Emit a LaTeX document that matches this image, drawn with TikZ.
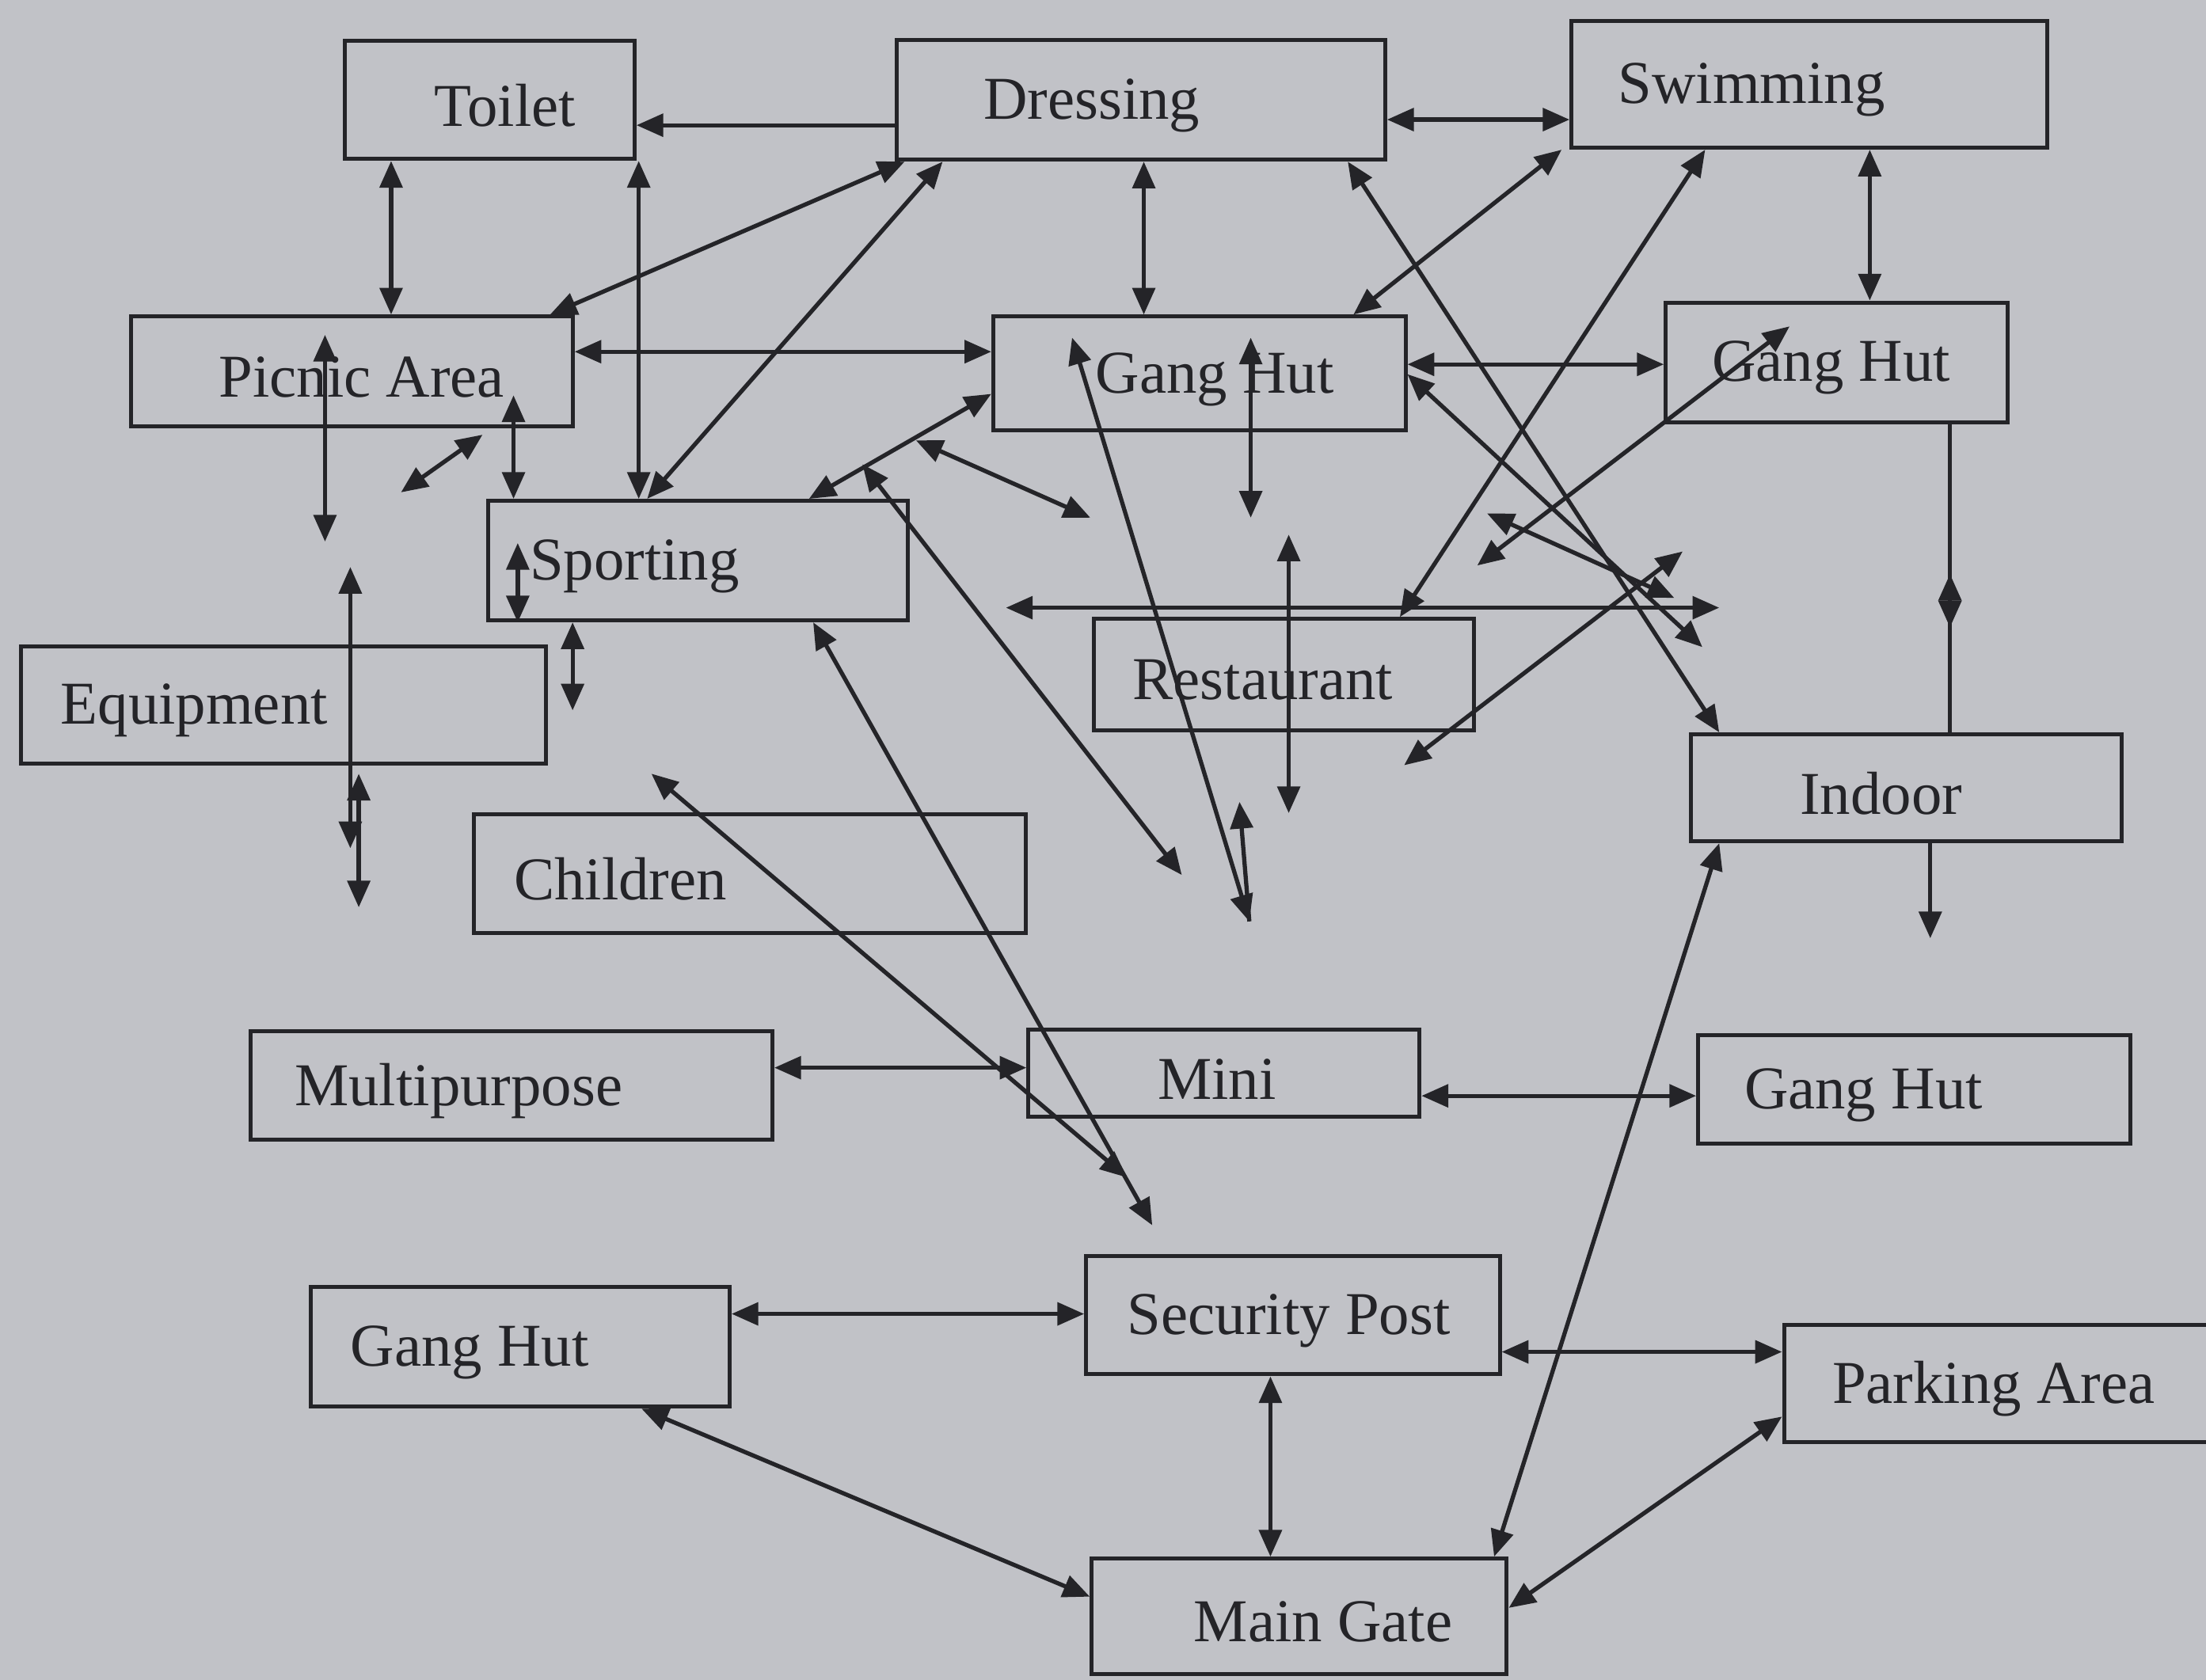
\documentclass[tikz,border=0pt]{standalone}
\usepackage{fontspec}
\setmainfont{Liberation Serif}
\usetikzlibrary{arrows.meta}
\definecolor{paper}{RGB}{193,194,199}
\definecolor{ink}{RGB}{36,36,40}

\begin{document}
\begin{tikzpicture}[x=1cm,y=-1cm,
		font=\fontsize{12.3}{14}\selectfont,
		room/.style n args={4}{draw=ink,line width=.8pt,inner sep=0pt,minimum width=#1cm,minimum height=#2cm,
			label={[text=ink,xshift=#3cm,yshift=-.04cm]center:#4}},
		both/.style={draw=ink,line width=.85pt,{Triangle[length=.19cm,width=.16cm]}-{Triangle[length=.19cm,width=.16cm]}},
		one/.style={draw=ink,line width=.85pt,-{Triangle[length=.19cm,width=.16cm]}}]
			\fill[paper] (0,0) rectangle (15.68,11.94);
			\useasboundingbox (0,0) rectangle (15.68,11.94);
			\node[room={2.06}{0.84}{0.11}{Toilet}] (toilet) at (3.48,0.71) {};
			\node[room={3.47}{0.85}{-0.35}{Dressing}] (dressing) at (8.11,0.71) {};
			\node[room={3.38}{0.90}{-0.41}{Swimming}] (swimming) at (12.86,0.60) {};
			\node[room={3.14}{0.78}{0.07}{Picnic Area}] (picnic) at (2.50,2.64) {};
			\node[room={2.93}{0.81}{0.11}{Gang Hut}] (ganghut) at (8.525,2.655) {};
			\node[room={2.43}{0.85}{-0.04}{Gang Hut}] (ganghutR) at (13.055,2.575) {};
			\node[room={2.98}{0.85}{-0.45}{Sporting}] (sporting) at (4.96,3.985) {};
			\node[room={3.73}{0.835}{-0.635}{Equipment}] (equipment) at (2.015,5.01) {};
			\node[room={2.70}{0.79}{-0.15}{Restaurant}] (restaurant) at (9.126,4.795) {};
			\node[room={3.06}{0.76}{-0.18}{Indoor}] (indoor) at (13.55,5.60) {};
			\node[room={3.92}{0.84}{-0.92}{Children}] (children) at (5.33,6.21) {};
			\node[room={3.71}{0.77}{-0.375}{Multipurpose}] (multipurpose) at (3.635,7.715) {};
			\node[room={2.78}{0.62}{-0.05}{Mini}] (mini) at (8.70,7.63) {};
			\node[room={3.07}{0.77}{-0.36}{Gang Hut}] (ganghutLR) at (13.605,7.745) {};
			\node[room={2.94}{0.84}{-0.03}{Security Post}] (security) at (9.19,9.35) {};
			\node[room={2.976}{0.85}{-0.36}{Gang Hut}] (ganghutLL) at (3.698,9.575) {};
			\node[room={3.17}{0.83}{-0.095}{Parking Area}] (parking) at (14.265,9.835) {};
			\node[room={2.95}{0.82}{0.17}{Main Gate}] (maingate) at (9.235,11.49) {};
			\path (2.31,2.38) coordinate (a1) (2.31,3.85) coordinate (a2)
				(2.49,4.03) coordinate (a3) (2.49,6.03) coordinate (a4)
				(2.55,5.50) coordinate (a5) (2.55,6.45) coordinate (a6)
				(2.85,3.50) coordinate (a7) (3.43,3.09) coordinate (a8)
				(3.65,2.81) coordinate (a9) (3.68,3.86) coordinate (a10)
				(4.07,5.05) coordinate (a11);
			\path (8.89,2.40) coordinate (b1) (8.89,3.68) coordinate (b2)
				(9.16,3.80) coordinate (b3) (9.16,5.78) coordinate (b4)
				(7.62,2.40) coordinate (b5) (8.88,6.55) coordinate (b6)
				(8.81,5.70) coordinate (b7) (6.13,3.30) coordinate (b8)
				(8.40,6.22) coordinate (b9) (6.51,3.13) coordinate (b10)
				(7.75,3.68) coordinate (b11);
			\path (10.50,4.02) coordinate (c1) (12.72,2.32) coordinate (c2)
				(12.10,4.60) coordinate (c3) (10.57,3.65) coordinate (c4)
				(11.90,4.25) coordinate (c5) (7.15,4.32) coordinate (c6)
				(12.22,4.32) coordinate (c7) (9.98,5.44) coordinate (c8)
				(11.96,3.92) coordinate (c9);
			\path (13.86,4.46) coordinate (g1) (13.86,4.08) coordinate (g2)
				(13.72,6.67) coordinate (g3);
			\path (8.19,8.71) coordinate (s1) (4.63,5.50) coordinate (s2)
				(8.01,8.37) coordinate (s3);
			\draw[one] (dressing.west |- 0,0.89) -- (toilet.east |- 0,0.89);
			\draw[both] (dressing.east |- 0,0.85) -- (swimming.west |- 0,0.85);
			\draw[both] (toilet.south -| 2.78,0) -- (picnic.north -| 2.78,0);
			\draw[both] (toilet.south -| 4.54,0) -- (sporting.north -| 4.54,0);
			\draw[both] (picnic.north -| 3.91,0) -- (dressing.south -| 6.43,0);
			\draw[both] (sporting.north -| 4.60,0) -- (dressing.south -| 6.70,0);
			\draw[both] (picnic.east |- 0,2.50) -- (ganghut.west |- 0,2.50);
			\draw[both] (dressing.south -| 8.13,0) -- (ganghut.north -| 8.13,0);
			\draw[both] (dressing.south -| 9.58,0) -- (indoor.north -| 12.22,0);
			\draw[both] (ganghut.north -| 9.62,0) -- (swimming.south -| 11.10,0);
			\draw[both] (swimming.south -| 12.12,0) -- (restaurant.north -| 9.95,0);
			\draw[both] (ganghut.east |- 0,2.59) -- (ganghutR.west |- 0,2.59);
			\draw[both] (swimming.south -| 13.29,0) -- (ganghutR.north -| 13.29,0);
			\draw[one] (ganghutR.south -| 13.86,0) -- (g1);
			\draw[one] (indoor.north -| 13.86,0) -- (g2);
			\draw[one] (indoor.south -| 13.72,0) -- (g3);
			\draw[both] (indoor.south -| 12.22,0) -- (maingate.north -| 10.62,0);
			\draw[both] (c1) -- (c2);
			\draw[both] (ganghut.east |- 0,2.66) -- (c3);
			\draw[both] (c4) -- (c5);
			\draw[both] (c6) -- (c7);
			\draw[both] (c8) -- (c9);
			\draw[both] (b1) -- (b2);
			\draw[both] (b3) -- (b4);
			\draw[both] (b5) -- (b6);
			\draw[one] (b6) -- (b7);
			\draw[both] (sporting.north -| 5.75,0) -- (ganghut.west |- 0,2.80);
			\draw[both] (b8) -- (b9);
			\draw[both] (b10) -- (b11);
			\draw[both] (sporting.south -| 5.78,0) -- (s1);
			\draw[both] (s2) -- (s3);
			\draw[both] (a1) -- (a2);
			\draw[both] (a3) -- (a4);
			\draw[both] (a5) -- (a6);
			\draw[both] (a7) -- (a8);
			\draw[both] (a9) -- (sporting.north -| 3.65,0);
			\draw[both] (a10) -- (sporting.south -| 3.68,0);
			\draw[both] (sporting.south -| 4.07,0) -- (a11);
			\draw[both] (multipurpose.east |- 0,7.59) -- (mini.west |- 0,7.59);
			\draw[both] (mini.east |- 0,7.79) -- (ganghutLR.west |- 0,7.79);
			\draw[both] (ganghutLL.east |- 0,9.34) -- (security.west |- 0,9.34);
			\draw[both] (security.south -| 9.03,0) -- (maingate.north -| 9.03,0);
			\draw[both] (security.east |- 0,9.61) -- (parking.west |- 0,9.61);
			\draw[both] (ganghutLL.south -| 4.56,0) -- (maingate.west |- 0,11.35);
			\draw[both] (maingate.east |- 0,11.43) -- (parking.west |- 0,10.07);
		\end{tikzpicture}
\end{document}
